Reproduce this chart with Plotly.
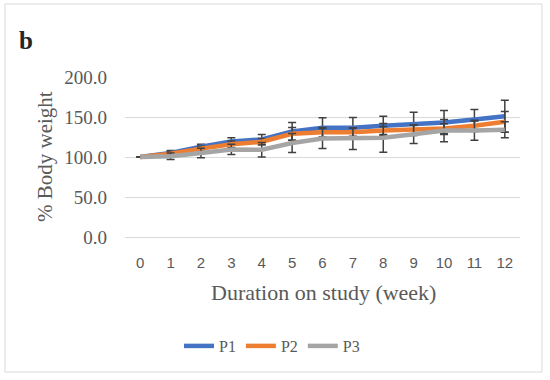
import plotly.graph_objects as go

weeks = list(range(13))
tick_labels = [str(w) for w in weeks]
p1 = [100, 105, 113, 119.5, 122, 132, 136.5, 136.5, 139, 141.5, 143, 147, 151]
p2 = [100, 104, 110.5, 116, 119, 129, 131, 131, 133, 134, 135.5, 139, 144]
p3 = [100, 101, 105, 109.5, 109, 117.5, 123, 123, 124, 128.5, 133, 133, 134]
p1_err = [0, 3, 3, 4.5, 6, 11, 12.5, 13, 12, 14.5, 15, 12.5, 20]
p2_err = [0, 3, 3, 4, 4, 8, 6, 5, 5, 6, 6, 7, 13]
p3_err = [0, 4, 6, 6.5, 9, 12, 12.5, 13.5, 18, 11.5, 14, 12, 10]

series = [("P1", p1, p1_err, "#4472C4"), ("P2", p2, p2_err, "#ED7D31"), ("P3", p3, p3_err, "#A5A5A5")]

W, H = 550, 380
L, R, T, B = 125, 30, 77, 143
pw, ph = W - L - R, H - T - B

def px(x):
    return (x - L) / pw

def py(y):
    return (H - B - y) / ph

fig = go.Figure()
for name, vals, err, col in series:
    fig.add_trace(go.Scatter(
        x=weeks, y=vals, name=name, mode="lines",
        line=dict(color=col, width=4.5),
        error_y=dict(type="data", array=err, visible=True, color="#404040", thickness=1.5, width=4),
    ))

serif = "Liberation Serif, Times New Roman, serif"
fig.update_layout(
    width=W, height=H,
    margin=dict(l=L, r=R, t=T, b=B),
    paper_bgcolor="white", plot_bgcolor="white",
    showlegend=True,
    legend=dict(orientation="h", x=px(272), xanchor="center", y=py(346), yanchor="middle",
                font=dict(family=serif, size=16, color="#595959"), itemwidth=30,
                tracegroupgap=0),
    xaxis=dict(range=[-0.5, 12.5], tickvals=weeks, ticktext=tick_labels, showgrid=False,
               showline=True, linecolor="#D9D9D9", linewidth=1, zeroline=False,
               tickfont=dict(family="Liberation Sans, Arial, sans-serif", size=15, color="#595959"),
               ticklabelstandoff=12, fixedrange=True),
    yaxis=dict(range=[0, 200], dtick=50, tickformat=".1f", showgrid=True, gridcolor="#D9D9D9",
               gridwidth=1, zeroline=False, showline=False,
               tickfont=dict(family=serif, size=19, color="#595959"),
               ticklabelstandoff=17, fixedrange=True),
    shapes=[dict(type="rect", xref="paper", yref="paper", x0=px(5), x1=px(542), y0=py(372), y1=py(4),
                 line=dict(color="#D9D9D9", width=1), layer="below")],
    annotations=[
        dict(text="<b>b</b>", xref="paper", yref="paper", x=px(26), y=py(40), showarrow=False,
             font=dict(family=serif, size=25, color="#262626"), xanchor="center", yanchor="middle"),
        dict(text="% Body weight", xref="paper", yref="paper", x=px(45), y=py(157), showarrow=False,
             textangle=-90, font=dict(family=serif, size=21, color="#595959"), xanchor="center", yanchor="middle"),
        dict(text="Duration on study (week)", xref="paper", yref="paper", x=px(323), y=py(292), showarrow=False,
             font=dict(family=serif, size=22, color="#595959"), xanchor="center", yanchor="middle"),
    ],
)

fig.write_html("out.html", config={"displayModeBar": False, "staticPlot": True},
               post_script="document.body.style.margin='0';")
